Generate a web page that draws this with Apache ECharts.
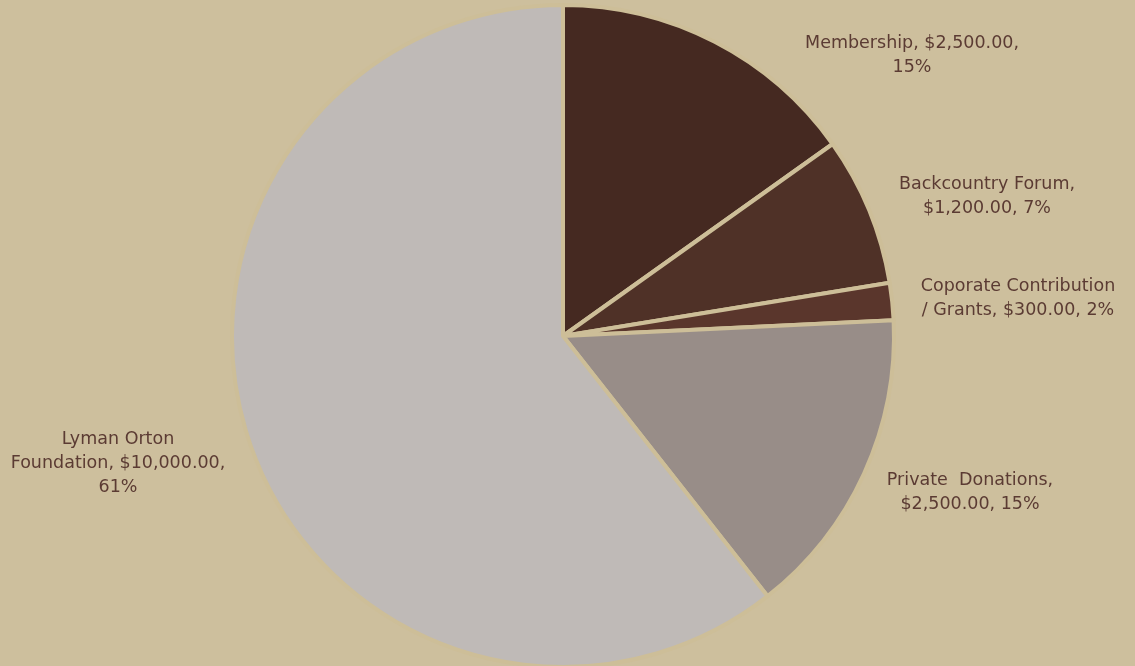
<!DOCTYPE html>
<html>
<head>
<meta charset="utf-8">
<script src="https://cdn.jsdelivr.net/npm/echarts@6/dist/echarts.min.js"></script>
<style>
html,body{margin:0;padding:0;background:#cdbf9d;}
#chart{width:1135px;height:666px;}
</style>
</head>
<body>
<div id="chart"></div>
<script>
const categories = ['Membership', 'Backcountry Forum', 'Coporate Contribution\n/ Grants', 'Private  Donations', 'Lyman Orton\nFoundation'];
const values = [2500, 1200, 300, 2500, 10000];
const sliceColors = ['#452921', '#4f3127', '#5a362c', '#988d88', '#bfbab7'];
// where the label text breaks: true = after name, false = after value
const breakAfterName = [false, true, false, true, false];

const labelPos = [[912, 55], [987, 196], [1018, 298], [970, 492], [118, 463]];

function money(v) {
  return '$' + v.toLocaleString('en-US', {minimumFractionDigits: 2, maximumFractionDigits: 2});
}

const chart = echarts.init(document.getElementById('chart'));
chart.setOption({
  backgroundColor: '#cdbf9d',
  animation: false,
  series: [{
    type: 'pie',
    center: [563, 336],
    radius: 331,
    startAngle: 90,
    clockwise: true,
    percentPrecision: 0,
    data: categories.map((c, i) => ({
      name: c, value: values[i],
      itemStyle: {color: sliceColors[i]}
    })),
    itemStyle: {borderColor: '#cdbe98', borderWidth: 4},
    label: {
      show: true,
      position: 'outside',
      color: '#5b3b33',
      fontFamily: 'DejaVu Sans',
      fontSize: 17.5,
      lineHeight: 24,
      align: 'center',
      overflow: 'none',
      formatter: function (p) {
        const i = p.dataIndex;
        const v = money(p.value);
        if (i === 2) return p.name + ', ' + v + ', ' + p.percent + '%';
        if (breakAfterName[i]) return p.name + ',\n' + v + ', ' + p.percent + '%';
        return p.name + ', ' + v + ',\n' + p.percent + '%';
      }
    },
    labelLine: {show: false},
    labelLayout: function (params) {
      const pos = labelPos[params.dataIndex];
      return {x: pos[0], y: pos[1], align: 'center', verticalAlign: 'middle'};
    },
    emphasis: {disabled: true}
  }]
});
</script>
</body>
</html>
